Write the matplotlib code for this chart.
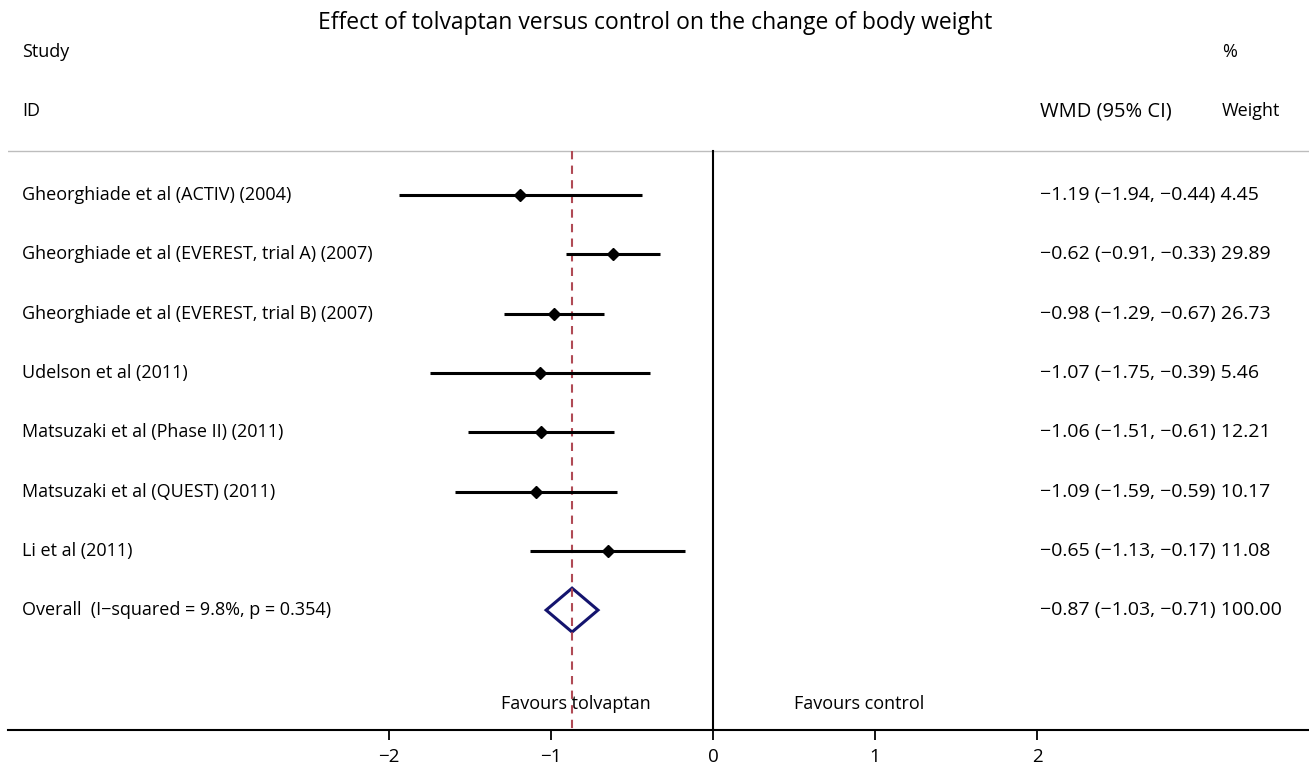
import matplotlib
matplotlib.use("Agg")
import matplotlib.pyplot as plt
from matplotlib.patches import Polygon

plt.rcParams['font.family'] = ['Open Sans', 'DejaVu Sans']

studies = [
    "Gheorghiade et al (ACTIV) (2004)",
    "Gheorghiade et al (EVEREST, trial A) (2007)",
    "Gheorghiade et al (EVEREST, trial B) (2007)",
    "Udelson et al (2011)",
    "Matsuzaki et al (Phase II) (2011)",
    "Matsuzaki et al (QUEST) (2011)",
    "Li et al (2011)",
]
wmd = [-1.19, -0.62, -0.98, -1.07, -1.06, -1.09, -0.65]
ci_low = [-1.94, -0.91, -1.29, -1.75, -1.51, -1.59, -1.13]
ci_high = [-0.44, -0.33, -0.67, -0.39, -0.61, -0.59, -0.17]
weights = ["4.45", "29.89", "26.73", "5.46", "12.21", "10.17", "11.08"]

overall_label = "Overall  (I\u2212squared = 9.8%, p = 0.354)"
overall_wmd = -0.87
overall_low = -1.03
overall_high = -0.71
overall_weight = "100.00"

xticks = [-2, -1, 0, 1, 2]


def fmt(v):
    return f"{v:.2f}".replace("-", "\u2212")


def main():
    fig = plt.figure(figsize=(13.09, 7.68), dpi=100)
    # axes spans pixel x 8..1309, y 0..730
    ax = fig.add_axes([8 / 1309, (768 - 730) / 768, 1301 / 1309, 730 / 768])
    px_per_unit = 162.0
    x0 = -(713 - 8) / px_per_unit
    x1 = (1309 - 713) / px_per_unit
    row_px = 59.3
    y_bottom = (730 - 195) / row_px
    y_top = -195 / row_px
    ax.set_xlim(x0, x1)
    ax.set_ylim(y_bottom, y_top)

    for s in ["top", "right", "left"]:
        ax.spines[s].set_visible(False)
    ax.spines["bottom"].set_linewidth(1.5)
    ax.set_yticks([])
    ax.set_xticks(xticks)
    ax.set_xticklabels([str(t).replace("-", "\u2212") for t in xticks], fontsize=13.5)
    ax.tick_params(axis="x", length=7, width=1.3, pad=6)

    def ypx(p):
        return (p - 195) / row_px

    col_study = x0 + (22 - 8) / px_per_unit
    col_wmd = (1040 - 713) / px_per_unit
    col_w = (1222 - 713) / px_per_unit
    fs = 13
    fs_num = 14

    # title and headers
    ax.text((655 - 713) / px_per_unit, ypx(23), "Effect of tolvaptan versus control on the change of body weight",
            ha="center", va="center", fontsize=16.5)
    ax.text(col_study, ypx(52), "Study", ha="left", va="center", fontsize=fs)
    ax.text(col_study, ypx(111), "ID", ha="left", va="center", fontsize=fs)
    ax.text(col_wmd, ypx(111), "WMD (95% CI)", ha="left", va="center", fontsize=14.5)
    ax.text(col_w, ypx(52), "%", ha="left", va="center", fontsize=fs)
    ax.text(col_w, ypx(111), "Weight", ha="left", va="center", fontsize=fs)
    ax.axhline(ypx(151), color="#bdbdbd", lw=1.0)

    # reference lines
    top = ypx(151)
    ax.plot([0, 0], [top, y_bottom], color="black", lw=1.5)
    ax.plot([overall_wmd, overall_wmd], [top, y_bottom], color="#b04a55", lw=1.5,
            linestyle=(0, (4, 3)))

    for i, name in enumerate(studies):
        ax.plot([ci_low[i], ci_high[i]], [i, i], color="black", lw=2.2, solid_capstyle="butt")
        ax.plot(wmd[i], i, marker="D", color="black", markersize=6)
        ax.text(col_study, i, name, ha="left", va="center", fontsize=fs)
        ax.text(col_wmd, i, f"{fmt(wmd[i])} ({fmt(ci_low[i])}, {fmt(ci_high[i])}) {weights[i]}",
                ha="left", va="center", fontsize=fs_num)

    n = len(studies)
    h = 0.37
    diamond = Polygon([[overall_low, n], [overall_wmd, n - h], [overall_high, n], [overall_wmd, n + h]],
                      closed=True, fill=False, edgecolor="#14146e", lw=2.2, joinstyle="miter")
    ax.add_patch(diamond)
    ax.text(col_study, n, overall_label, ha="left", va="center", fontsize=fs)
    ax.text(col_wmd, n, f"{fmt(overall_wmd)} ({fmt(overall_low)}, {fmt(overall_high)}) {overall_weight}",
            ha="left", va="center", fontsize=fs_num)

    ax.text((576 - 713) / px_per_unit, ypx(704), "Favours tolvaptan", ha="center", va="center", fontsize=fs)
    ax.text((859 - 713) / px_per_unit, ypx(704), "Favours control", ha="center", va="center", fontsize=fs)

    fig.savefig("out.png", dpi=100)


if __name__ == "__main__":
    main()
